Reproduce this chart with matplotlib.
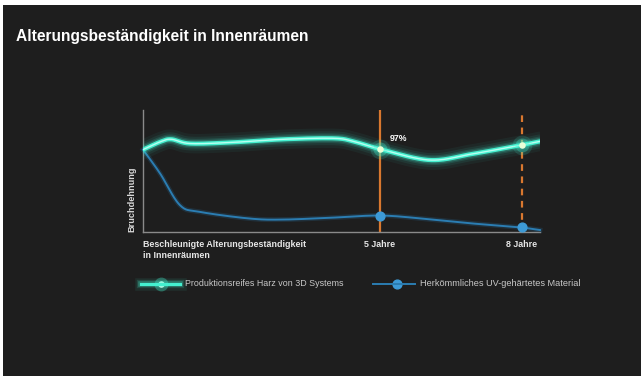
import numpy as np
import matplotlib
matplotlib.use("Agg")
import matplotlib.pyplot as plt

# ---------- data (x in years, y in % of axis height) ----------
resin_x = [0.0, 0.37, 0.6, 1.0, 1.9, 2.97, 4.02, 4.44, 5.0, 6.05, 6.95, 7.95, 8.38]
resin_y = [67.5, 74.0, 76.0, 72.5, 73.5, 76.0, 76.8, 74.3, 68.0, 59.0, 64.0, 71.0, 74.3]

uv_x = [0.0, 0.36, 0.78, 1.2, 2.26, 2.97, 4.02, 5.0, 5.9, 6.95, 7.95, 8.38]
uv_y = [67.5, 48.0, 22.0, 16.5, 11.0, 10.2, 11.8, 13.5, 11.0, 7.0, 3.8, 1.6]

marker_years = [5, 8]
marker_labels = ["5 Jahre", "8 Jahre"]
resin_marks = [68.0, 71.0]
uv_marks = [13.5, 3.8]

title = "Alterungsbeständigkeit in Innenräumen"
ylabel = "Bruchdehnung"
xlabel = "Beschleunigte Alterungsbeständigkeit\nin Innenräumen"
legend_resin = "Produktionsreifes Harz von 3D Systems"
legend_uv = "Herkömmliches UV-gehärtetes Material"

BG = "#1e1e1e"
TEAL = "#44f0cf"
BLUE = "#2b7db2"
ORANGE = "#d9782f"
GREY = "#8a8a8a"

plt.rcParams["font.family"] = ["Liberation Sans", "DejaVu Sans"]

W, H = 641, 376
fig = plt.figure(figsize=(W / 100, H / 100), dpi=100)
fig.patch.set_facecolor("white")

# dark slide panel (thin white border on top and left)
bg = fig.add_axes([3 / W, 0, 1 - 3 / W, 1 - 5 / H])
bg.set_facecolor(BG)
bg.set_xticks([])
bg.set_yticks([])
for s in bg.spines.values():
    s.set_visible(False)


def fx(px):
    return px / W


def fy(py):
    return 1 - py / H


x0, x1, ytop, ybot = 143, 540, 110, 232
ax = fig.add_axes([fx(x0), fy(ybot), (x1 - x0) / W, (ybot - ytop) / H])
ax.set_facecolor("none")
ax.set_xlim(0, 8.38)
ax.set_ylim(0, 100)
ax.set_xticks([])
ax.set_yticks([])
for s in ["top", "right"]:
    ax.spines[s].set_visible(False)
for s in ["left", "bottom"]:
    ax.spines[s].set_color(GREY)
    ax.spines[s].set_linewidth(1.0)


def smooth(xs, ys):
    # Catmull-Rom curve through the read points
    xs = np.asarray(xs, float)
    ys = np.asarray(ys, float)
    px = np.concatenate([[2 * xs[0] - xs[1]], xs, [2 * xs[-1] - xs[-2]]])
    py = np.concatenate([[2 * ys[0] - ys[1]], ys, [2 * ys[-1] - ys[-2]]])
    outx, outy = [], []
    for i in range(1, len(px) - 2):
        t = np.linspace(0, 1, 25, endpoint=False)
        p0, p1, p2, p3 = [np.array([px[j], py[j]]) for j in range(i - 1, i + 3)]
        pts = 0.5 * ((2 * p1)[:, None] + (-p0 + p2)[:, None] * t
                     + (2 * p0 - 5 * p1 + 4 * p2 - p3)[:, None] * t ** 2
                     + (-p0 + 3 * p1 - 3 * p2 + p3)[:, None] * t ** 3)
        outx.extend(pts[0])
        outy.extend(pts[1])
    outx.append(xs[-1])
    outy.append(ys[-1])
    return np.array(outx), np.array(outy)


# orange year markers
ax.vlines(marker_years[0], 0, 100, color=ORANGE, lw=1.6, zorder=2)
ax.vlines(marker_years[1], 0, 96, color=ORANGE, lw=1.6, linestyles=(0, (3, 2.5)), zorder=2)

# blue conventional material
ux, uy = smooth(uv_x, uv_y)
ax.plot(ux, uy, color=BLUE, lw=3.5, alpha=0.2, zorder=3, clip_on=False)
ax.plot(ux, uy, color=BLUE, lw=1.4, zorder=3, clip_on=False)
ax.scatter(marker_years, uv_marks, s=40, color="#3d9ad6", zorder=4, clip_on=False)

# glowing teal resin line
rx, ry = smooth(resin_x, resin_y)
for lw, a in [(14, 0.05), (10, 0.08), (7, 0.13), (5, 0.22)]:
    ax.plot(rx, ry, color=TEAL, lw=lw, alpha=a, solid_capstyle="round", zorder=5)
ax.plot(rx, ry, color=TEAL, lw=3, zorder=6, solid_capstyle="round")
ax.plot(rx, ry, color="#b8fff0", lw=1.0, zorder=6)
for s, a in [(200, 0.15), (100, 0.3)]:
    ax.scatter(marker_years, resin_marks, s=s, color=TEAL, alpha=a, lw=0, zorder=7)
ax.scatter(marker_years, resin_marks, s=22, color="#eaffd8", lw=0, zorder=7)

ax.text(5.2, 74.5, "97%", color="white", fontsize=6.3, fontweight="bold", zorder=8)

# labels
fig.text(fx(16), fy(36), title, color="white", fontsize=11.2, fontweight="bold", va="center")
fig.text(fx(132), fy(199), ylabel, color="#d8d8d8", fontsize=6.6, fontweight="bold",
         rotation=90, ha="center", va="center")
fig.text(fx(143), fy(240), xlabel, color="#e6e6e6", fontsize=6.4, fontweight="bold",
         va="top", linespacing=1.25)
for yr, lab in zip(marker_years, marker_labels):
    px = x0 + yr / 8.38 * (x1 - x0)
    fig.text(fx(px), fy(245), lab, color="#e6e6e6", fontsize=6.4, fontweight="bold",
             ha="center", va="center")

# legend drawn by hand on the figure
lg = fig.add_axes([0, 0, 1, 1], facecolor="none")
lg.set_xlim(0, W)
lg.set_ylim(H, 0)
lg.axis("off")
for lw, a in [(9, 0.08), (6, 0.15), (4, 0.3)]:
    lg.plot([141, 180], [284, 284], color=TEAL, lw=lw, alpha=a)
lg.plot([141, 180], [284, 284], color=TEAL, lw=2.2)
lg.scatter([161], [284], s=100, color=TEAL, alpha=0.35, lw=0)
lg.scatter([161], [284], s=22, color="#dfffee", lw=0)
lg.text(185, 284, legend_resin, color="#c8c8c8", fontsize=6.4, va="center")
lg.plot([373, 415], [284, 284], color=BLUE, lw=1.4)
lg.scatter([397], [284], s=40, color="#3d9ad6")
lg.text(420, 284, legend_uv, color="#c8c8c8", fontsize=6.6, va="center")

fig.savefig("out.png", dpi=100, facecolor=fig.get_facecolor())
